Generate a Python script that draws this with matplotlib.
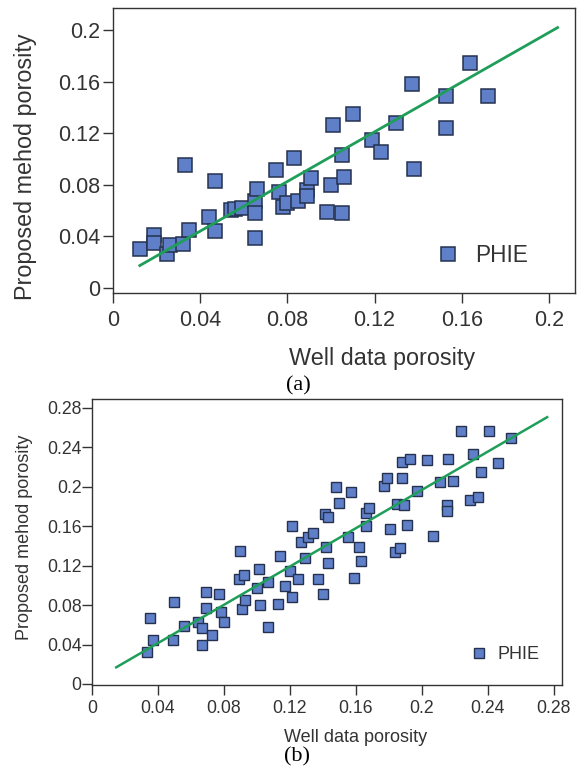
import numpy as np
import matplotlib
matplotlib.use("Agg")
import matplotlib.pyplot as plt

plt.rcParams['font.family'] = ['Liberation Sans', 'DejaVu Sans']

# panel (a)
well_a = [0.0125, 0.019, 0.019, 0.025, 0.026, 0.032, 0.035, 0.033, 0.044, 0.047,
          0.047, 0.054, 0.056, 0.059, 0.065, 0.065, 0.066, 0.065, 0.075, 0.076,
          0.078, 0.080, 0.083, 0.085, 0.089, 0.089, 0.091, 0.098, 0.100, 0.101,
          0.105, 0.106, 0.105, 0.110, 0.119, 0.123, 0.130, 0.137, 0.138, 0.153,
          0.153, 0.164, 0.172]
prop_a = [0.030, 0.041, 0.035, 0.026, 0.033, 0.034, 0.045, 0.095, 0.055, 0.044,
          0.083, 0.060, 0.061, 0.062, 0.067, 0.058, 0.077, 0.039, 0.091, 0.074,
          0.063, 0.066, 0.101, 0.067, 0.076, 0.071, 0.085, 0.059, 0.080, 0.126,
          0.103, 0.086, 0.058, 0.135, 0.115, 0.105, 0.128, 0.158, 0.092, 0.149,
          0.124, 0.174, 0.149]
fit_a_x = [0.0123, 0.204]
fit_a_y = [0.0173, 0.2018]
ticks_a = [0, 0.04, 0.08, 0.12, 0.16, 0.2]
ticklabels_a = ["0", "0.04", "0.08", "0.12", "0.16", "0.2"]

# panel (b)
well_b = [0.0336, 0.037, 0.035, 0.049, 0.050, 0.056, 0.064, 0.067, 0.067, 0.069,
          0.069, 0.073, 0.077, 0.078, 0.080, 0.090, 0.089, 0.092, 0.091, 0.093,
          0.101, 0.100, 0.102, 0.107, 0.107, 0.113, 0.114, 0.117, 0.120, 0.121,
          0.121, 0.125, 0.127, 0.129, 0.131, 0.134, 0.137, 0.140, 0.141, 0.143,
          0.142, 0.143, 0.148, 0.150, 0.155, 0.157, 0.159, 0.162, 0.163, 0.166,
          0.166, 0.168, 0.177, 0.179, 0.181, 0.184, 0.187, 0.185, 0.189, 0.188,
          0.188, 0.193, 0.191, 0.197, 0.203, 0.207, 0.211, 0.215, 0.215, 0.216,
          0.219, 0.224, 0.229, 0.231, 0.234, 0.236, 0.241, 0.246, 0.254]
prop_b = [0.032, 0.045, 0.067, 0.045, 0.083, 0.059, 0.063, 0.057, 0.040, 0.093,
          0.077, 0.050, 0.091, 0.073, 0.063, 0.135, 0.106, 0.111, 0.076, 0.085,
          0.117, 0.097, 0.080, 0.103, 0.058, 0.081, 0.130, 0.099, 0.115, 0.160,
          0.088, 0.106, 0.144, 0.128, 0.149, 0.153, 0.106, 0.091, 0.172, 0.169,
          0.139, 0.123, 0.200, 0.183, 0.149, 0.195, 0.107, 0.139, 0.125, 0.160,
          0.173, 0.178, 0.201, 0.209, 0.157, 0.134, 0.138, 0.182, 0.181, 0.225,
          0.209, 0.228, 0.161, 0.196, 0.227, 0.150, 0.205, 0.181, 0.175, 0.228,
          0.206, 0.256, 0.187, 0.233, 0.190, 0.215, 0.257, 0.224, 0.249]
fit_b_x = [0.0147, 0.276]
fit_b_y = [0.0169, 0.2705]
ticks_b = [0, 0.04, 0.08, 0.12, 0.16, 0.2, 0.24, 0.28]
ticklabels_b = ["0", "0.04", "0.08", "0.12", "0.16", "0.2", "0.24", "0.28"]

face = "#5f7fc8"
edge = "#25324f"
green = "#1f9e5a"
dark = "#333333"

fig = plt.figure(figsize=(5.8, 7.76), dpi=100)
ax1 = fig.add_axes([0.1948, 0.6224, 0.7966, 0.3673])
ax2 = fig.add_axes([0.1586, 0.1173, 0.8103, 0.3686])


def style(ax, ticks, labels, tsize, lsize, tlen, xpad, ypad):
    ax.set_xticks(ticks)
    ax.set_xticklabels(labels)
    ax.set_yticks(ticks)
    ax.set_yticklabels(labels)
    ax.tick_params(direction="out", length=tlen, width=1, colors=dark, labelsize=tsize)
    ax.tick_params(axis="x", pad=xpad)
    ax.tick_params(axis="y", pad=ypad)
    for s in ax.spines.values():
        s.set_color(dark)
        s.set_linewidth(1)
    ax.set_xlabel("Well data porosity", fontsize=lsize, color=dark)
    ax.set_ylabel("Proposed mehod porosity", fontsize=lsize, color=dark)
    ax.xaxis.label.set_verticalalignment("center")
    ax.yaxis.label.set_verticalalignment("center")


ax1.plot(well_a, prop_a, "s", ms=9.4, mfc=face, mec=edge, mew=1.1, label="PHIE", zorder=2)
ax1.plot(fit_a_x, fit_a_y, color=green, lw=2.0, zorder=3)
ax1.set_xlim(0, 0.212)
ax1.set_ylim(-0.004, 0.217)
style(ax1, ticks_a, ticklabels_a, 15.5, 16.8, 7, 5, 2)
ax1.xaxis.set_label_coords(0.582, -0.228)
ax1.yaxis.set_label_coords(-0.190, 0.442)
ax1.legend(loc="center left", bbox_to_anchor=(0.701, 0.133), frameon=False,
           fontsize=16.3, handlelength=1.0, handletextpad=0.7, borderpad=0,
           borderaxespad=0, labelcolor=dark)

ax2.plot(well_b, prop_b, "s", ms=7.5, mfc=face, mec=edge, mew=1.0, label="PHIE", zorder=2)
ax2.plot(fit_b_x, fit_b_y, color=green, lw=1.8, zorder=3)
ax2.set_xlim(0, 0.285)
ax2.set_ylim(-0.001, 0.289)
style(ax2, ticks_b, ticklabels_b, 12.7, 13, 7, 4, 0.5)
ax2.xaxis.set_label_coords(0.560, -0.182)
ax2.yaxis.set_label_coords(-0.143, 0.517)
ax2.legend(loc="center left", bbox_to_anchor=(0.804, 0.105), frameon=False,
           fontsize=13, handlelength=1.0, handletextpad=0.55, borderpad=0,
           borderaxespad=0, labelcolor=dark)

fig.text(0.514, 0.5026, "(a)", fontsize=16, family=["Liberation Serif", "DejaVu Serif"],
         ha="center", va="center")
fig.text(0.512, 0.0245, "(b)", fontsize=16, family=["Liberation Serif", "DejaVu Serif"],
         ha="center", va="center")

fig.savefig("out.png", dpi=100)
